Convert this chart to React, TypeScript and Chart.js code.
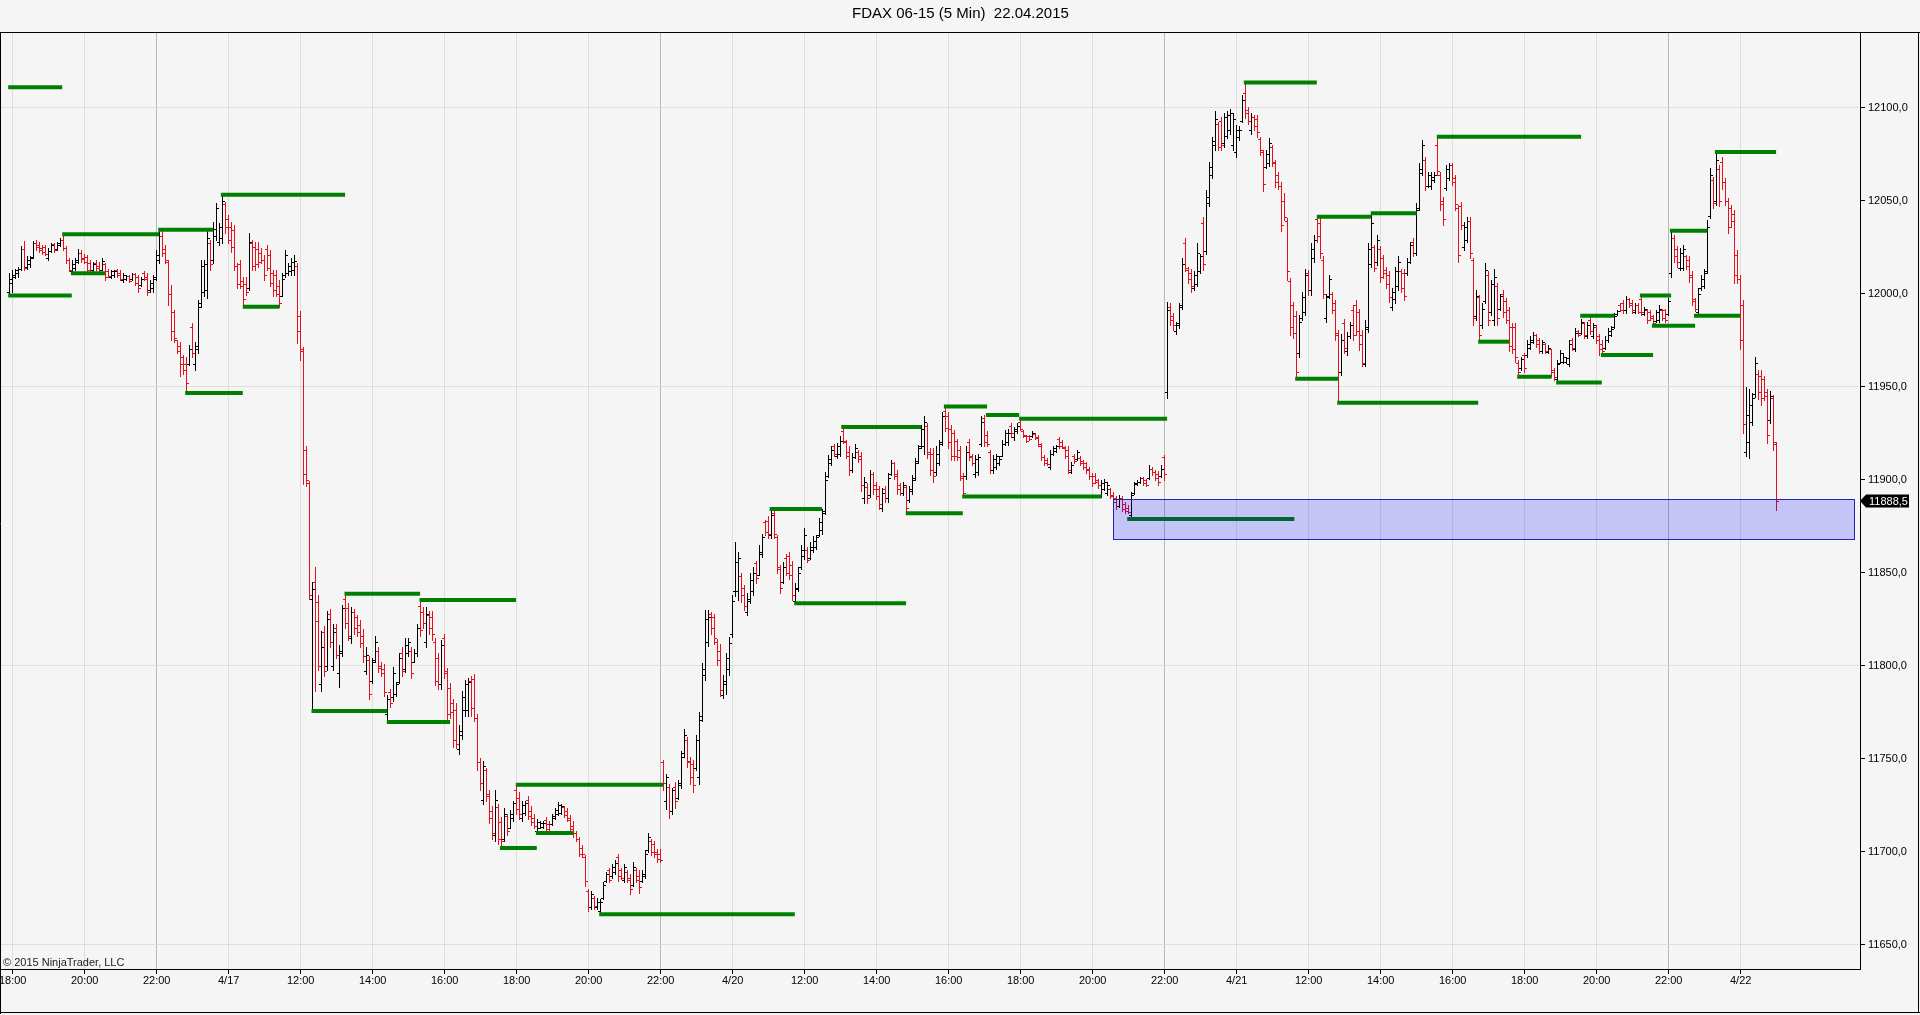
import React, { useEffect, useRef } from "react";
import { Chart, registerables } from "chart.js";

Chart.register(...registerables);

// ---------------- data ----------------
const chartTitle = "FDAX 06-15 (5 Min)  22.04.2015";
const copyrightText = "\u00A9 2015 NinjaTrader, LLC";

// x tick positions (bar index) and their labels
const xTickBars = [1, 25, 49, 73, 97, 121, 145, 169, 193, 217, 241, 265, 289, 313, 337, 361, 385, 409, 433, 457, 481, 505, 529, 553, 577];
const xTickLabels = ["18:00", "20:00", "22:00", "4/17", "12:00", "14:00", "16:00", "18:00", "20:00", "22:00", "4/20", "12:00", "14:00", "16:00", "18:00", "20:00", "22:00", "4/21", "12:00", "14:00", "16:00", "18:00", "20:00", "22:00", "4/22"];
const sessionBreakBars = [49, 217, 385, 553];
const yTickValues = [11650, 11700, 11750, 11800, 11850, 11900, 11950, 12000, 12050, 12100];
const yGridValues = [11650, 11800, 11950, 12100];

const opens = [
12001, 12006, 12009, 12011, 12013.5, 12024, 12014.5, 12016, 12019.5, 12027,
12026, 12024.5, 12025, 12019, 12023, 12026.5, 12024, 12026, 12029, 12024.5,
12018, 12012, 12014, 12017, 12022, 12019, 12019.5, 12016.5, 12012.5, 12016.5,
12015, 12013, 12016, 12012, 12009, 12010, 12012.5, 12011, 12007.5, 12008,
12009.5, 12008, 12010.5, 12009, 12004.5, 12011, 12009, 12002, 12003, 12008,
12018, 12031, 12024, 12017, 12000, 11990, 11975, 11972, 11966, 11962,
11962, 11982, 11962, 11970, 11995, 12001, 12002, 12027, 12018, 12031,
12028, 12030, 12048, 12040, 12036, 12034, 12015, 12016, 12007, 12005,
12003, 12027, 12025, 12024, 12022, 12018, 12024, 12021, 12011, 12010,
12004, 11999, 12010, 12011, 12012, 12013, 12015, 11988, 11969, 11916,
11898, 11836, 11845, 11834, 11790, 11818, 11800, 11828, 11800, 11820,
11796, 11807, 11836, 11831, 11815, 11829, 11826, 11822, 11816, 11797,
11803, 11792, 11803, 11808, 11800, 11798, 11774, 11786, 11783, 11785,
11791, 11807, 11798, 11807, 11808, 11802, 11807, 11832, 11829, 11813,
11827, 11826, 11813, 11804, 11790, 11815, 11796, 11788, 11780, 11776,
11755, 11763, 11776, 11776, 11792, 11793, 11772, 11748, 11728, 11744,
11731, 11722, 11709, 11724, 11716, 11707, 11719, 11713, 11718, 11733,
11729, 11718, 11721, 11728, 11722, 11718, 11711, 11713, 11713.5, 11717,
11715, 11715, 11718, 11720, 11721, 11724, 11722, 11718, 11714, 11710,
11707, 11702, 11697, 11679, 11670, 11675, 11670, 11668, 11675, 11684,
11690, 11687, 11689, 11697, 11690, 11685, 11689, 11686, 11682, 11690,
11687, 11684, 11687, 11701, 11706, 11704, 11700, 11699, 11748, 11727,
11735, 11722, 11735, 11729, 11736, 11753, 11760, 11749, 11747, 11745,
11740, 11773, 11795, 11813, 11828, 11826, 11813, 11808, 11784, 11790,
11798, 11817, 11840, 11840, 11848, 11842, 11829, 11835, 11840, 11855,
11849, 11860, 11877, 11878, 11870, 11882, 11869, 11852, 11845, 11858,
11859, 11854, 11835, 11841, 11853, 11859, 11862, 11858, 11862, 11864,
11870, 11873, 11883, 11902, 11909, 11918, 11913, 11914, 11926, 11920,
11915, 11905, 11912, 11915, 11913, 11890, 11896, 11892, 11903, 11897,
11895, 11885, 11895, 11890, 11903, 11909, 11903, 11897, 11893, 11896,
11889, 11894, 11901, 11910, 11918, 11918, 11929, 11915, 11914, 11904,
11909, 11920, 11937, 11934, 11927, 11925, 11921, 11916, 11901, 11902,
11920, 11913, 11903, 11904, 11919, 11933, 11924, 11915, 11905, 11907,
11909, 11913, 11919, 11920, 11929, 11923, 11926, 11931, 11926, 11923.5,
11923.5, 11923.5, 11924.5, 11923, 11918, 11912, 11910.5, 11907, 11914, 11915.5,
11922, 11920, 11917, 11916, 11904, 11913, 11911, 11911.5, 11910, 11909,
11906, 11902, 11902, 11900, 11891, 11895, 11893, 11895, 11892, 11890,
11886, 11890, 11887, 11885, 11881, 11893, 11897.5, 11898.5, 11901, 11900,
11901, 11906, 11904, 11903, 11902, 11912, 11947, 11993, 11988, 11980,
11983, 11994, 12027, 12013, 12011, 12003, 12005, 12012, 12038, 12023,
12049, 12064, 12080, 12091, 12093, 12081, 12085, 12088, 12080, 12076,
12084, 12093, 12108, 12099, 12088, 12095, 12094, 12083, 12076, 12068,
12070, 12079, 12070, 12064, 12058, 12050, 12039, 12007, 11994, 11988,
11968, 11987, 11990, 12011, 12002, 12019, 12040, 12038, 12018, 11987,
11999, 12000, 11995, 11979, 11958, 11984, 11969, 11977, 11991, 11994,
11990, 11978, 11962, 11981, 12016, 12025, 12017, 12024, 12019, 12013,
12010, 11993, 11997, 12004, 12012, 12011, 12011, 12017, 12028, 12022,
12046, 12065, 12072, 12058, 12058, 12061, 12080, 12064, 12050, 12057,
12062, 12069, 12062, 12046, 12047, 12025, 12029, 12039, 12018, 11988,
11998, 11983, 11996, 12010, 11990, 11986, 12004, 11992, 12000, 11996,
11991, 11982, 11982, 11963, 11960, 11967, 11967, 11971, 11974, 11978,
11975, 11969, 11973, 11968.5, 11970, 11959, 11954, 11963, 11963.5, 11963.5,
11962, 11975, 11970, 11980, 11979, 11984, 11977, 11986, 11977, 11982,
11977, 11973, 11971, 11975, 11978, 11982, 11989, 11994, 11995, 11991,
11997, 11995, 11990, 11994, 11997, 11989, 11991, 11990, 11988, 11985.5,
11986, 11991, 11991, 11989, 12011, 12030, 12024, 12014, 12014, 12020,
12018, 12010, 11996, 11990, 12003, 12004, 12012, 12042, 12061, 12050,
12067, 12071, 12060, 12050, 12046, 12043, 12021, 12008, 11994, 11915,
11920, 11931, 11946, 11957, 11956, 11954, 11947, 11932, 11944, 11919
];

const highs = [
12011, 12013, 12013.5, 12014.5, 12025.5, 12028.5, 12020, 12020, 12028.5, 12029,
12028, 12026, 12026, 12024.5, 12027, 12027, 12028, 12030, 12032, 12025.5,
12019, 12018, 12019, 12024, 12023.5, 12021.5, 12021, 12018, 12017, 12018,
12017, 12019, 12016.5, 12013.5, 12013, 12013, 12013.5, 12013, 12011, 12010,
12010, 12011, 12011, 12010, 12009, 12012, 12011, 12007.5, 12010, 12023.5,
12034, 12033.5, 12026, 12018, 12004.5, 11991.5, 11975, 11974, 11967, 11966,
11972.5, 11984, 11974, 11996.5, 12018, 12018, 12033.5, 12029, 12038.5, 12048.5,
12038, 12053, 12049.5, 12042.5, 12038.5, 12037, 12016.5, 12018, 12009, 12009,
12032.5, 12029, 12028, 12028, 12024.5, 12021, 12026, 12023.5, 12013, 12013,
12007.5, 12011, 12023.5, 12016.5, 12019, 12021, 12016.5, 11990.5, 11971.5, 11918,
11899.5, 11845, 11853, 11838, 11818.5, 11821.5, 11829.5, 11830.5, 11822.5, 11822.5,
11811, 11832.5, 11838.5, 11833.5, 11831.5, 11830.5, 11827.5, 11824.5, 11819.5, 11810,
11805, 11804, 11816, 11810, 11802, 11801, 11784.5, 11787.5, 11799.5, 11791.5,
11807, 11810, 11815, 11815, 11810, 11809, 11822.5, 11835, 11831.5, 11831.5,
11829.5, 11829.5, 11815, 11807, 11814, 11817, 11798.5, 11790.5, 11782, 11780,
11768, 11786.5, 11792.5, 11793.5, 11794.5, 11795.5, 11774, 11750.5, 11748.5, 11745,
11733, 11724.5, 11733, 11725.5, 11718.5, 11723.5, 11720.5, 11722.5, 11727.5, 11735.5,
11732, 11727.5, 11727.5, 11730, 11724.5, 11720.5, 11717.5, 11716.5, 11716.5, 11718.5,
11716.5, 11720.5, 11723.5, 11726.5, 11725.5, 11724.5, 11723.5, 11719.5, 11716.5, 11711,
11708, 11703.5, 11698, 11680, 11679, 11676, 11675, 11674.5, 11683.5, 11689,
11691.5, 11693.5, 11695.5, 11699, 11691, 11693.5, 11690, 11688, 11694.5, 11691.5,
11690, 11690, 11701, 11710, 11707, 11705.5, 11701.5, 11701.5, 11749.5, 11742,
11736.5, 11734.5, 11737.5, 11738.5, 11754, 11766, 11761.5, 11751, 11749.5, 11763,
11775, 11801.5, 11830, 11830, 11829, 11828, 11814.5, 11811.5, 11795, 11807,
11815.5, 11838, 11866.5, 11861, 11850, 11843.5, 11839, 11850, 11853, 11856.5,
11865, 11871, 11878.5, 11880.5, 11883, 11884, 11870.5, 11854, 11855.5, 11860,
11861, 11856.5, 11844.5, 11853, 11865, 11874, 11864, 11866.5, 11869.5, 11870.5,
11879.5, 11884, 11904, 11913.5, 11918, 11919, 11919.5, 11923.5, 11928, 11921.5,
11918, 11914.5, 11919, 11916, 11915, 11901.5, 11898, 11905, 11904, 11898.5,
11896.5, 11895.5, 11896.5, 11903.5, 11910.5, 11909.5, 11905, 11898, 11899, 11897,
11896.5, 11902.5, 11911.5, 11918.5, 11929.5, 11934, 11930.5, 11917, 11917, 11918,
11921.5, 11936.5, 11939.5, 11936.5, 11929.5, 11926.5, 11922, 11918, 11903.5, 11918,
11922, 11914, 11913.5, 11914, 11934, 11935, 11926, 11916, 11913.5, 11914,
11912.5, 11921.5, 11926.5, 11927.5, 11930.5, 11928.5, 11930.5, 11933, 11926.5, 11924,
11924, 11926, 11925, 11924, 11919.5, 11913.5, 11911.5, 11916, 11918, 11918.5,
11923, 11921.5, 11918, 11918, 11909.5, 11914, 11916, 11912.5, 11910.5, 11909.5,
11907, 11903.5, 11903.5, 11900.5, 11900, 11900.5, 11899, 11895.5, 11893.5, 11891,
11892, 11891, 11888, 11886.5, 11893.5, 11899, 11900, 11901.5, 11901.5, 11900.5,
11908, 11907, 11905, 11904.5, 11908, 11913.5, 11995.5, 11995, 11989.5, 11985,
11995, 12019, 12030, 12014.5, 12013.5, 12012, 12027, 12021.5, 12041.5, 12055.5,
12071, 12084.5, 12098, 12092.5, 12095, 12097, 12098, 12099.5, 12097, 12090.5,
12090, 12107, 12113.5, 12100.5, 12097, 12096, 12096, 12084.5, 12077.5, 12077.5,
12083.5, 12080, 12072, 12065.5, 12060, 12054, 12040.5, 12008.5, 11995.5, 11990.5,
11988.5, 12001, 12013.5, 12012.5, 12027, 12031.5, 12041.5, 12040.5, 12020, 12000,
12010, 12001, 11996.5, 11980.5, 11978.5, 11986.5, 11979.5, 11985, 11994, 11996.5,
11992, 11980.5, 11986, 12027, 12042.5, 12026, 12031.5, 12025.5, 12021, 12014.5,
12012, 12003, 12014.5, 12020, 12013.5, 12013.5, 12019, 12028, 12030, 12048.5,
12070, 12082.5, 12073.5, 12065.5, 12065.5, 12065.5, 12084.5, 12065.5, 12052, 12069,
12070, 12070, 12064, 12047.5, 12049.5, 12038.5, 12041.5, 12041.5, 12019, 12002,
11999.5, 11995, 12016.5, 12012, 12007.5, 12013.5, 12005.5, 12000, 12002, 11997.5,
11993, 11984, 11984, 11964.5, 11966, 11968, 11975, 11977, 11979.5, 11978.5,
11976, 11975, 11973.5, 11972.5, 11970.5, 11960, 11964.5, 11969.5, 11968, 11966,
11975, 11976, 11981.5, 11980.5, 11986.5, 11985, 11985, 11988, 11984, 11983,
11978.5, 11975, 11977, 11981.5, 11982.5, 11989.5, 11991, 11995, 11996.5, 11998.5,
11997.5, 11996.5, 11995, 11995, 11999, 11993, 11992, 11991, 11988.5, 11991,
11994, 11992, 11992, 11997.5, 12034, 12031.5, 12025.5, 12024.5, 12026, 12021,
12020, 12012, 11997.5, 12003, 12010, 12013.5, 12039.5, 12067.5, 12063, 12076,
12069, 12073.5, 12062, 12051.5, 12047.5, 12045, 12023.5, 12010, 11996.5, 11950,
11949, 11946.5, 11966, 11959, 11959, 11955.5, 11949, 11947.5, 11945.5, 11920.5
];

const lows = [
11999.5, 12001, 12008.5, 12009, 12013, 12013, 12013.5, 12014.5, 12019, 12023.5,
12022.5, 12021.5, 12021, 12018, 12022.5, 12022.5, 12023.5, 12025.5, 12023.5, 12016.5,
12012, 12011, 12013, 12016.5, 12017, 12016.5, 12012, 12012, 12012, 12013,
12012, 12013, 12007.5, 12009, 12008.5, 12009, 12009, 12007.5, 12006.5, 12007.5,
12006.5, 12007.5, 12004.5, 12001, 12004, 12007.5, 11999.5, 12001, 12001, 12007.5,
12016.5, 12020, 12016.5, 11994, 11975, 11974, 11968, 11955.5, 11957, 11946.5,
11961.5, 11966, 11959, 11968, 11993, 11998.5, 11997.5, 12013, 12016.5, 12029,
12026, 12027, 12032.5, 12027, 12022.5, 12013, 12003, 12003, 11993, 11999.5,
12002, 12013, 12013, 12014.5, 12016.5, 12007.5, 12013, 12004, 11998.5, 11998.5,
11993, 11998.5, 12009, 12010, 12010, 12010, 11973.5, 11964.5, 11897.5, 11896.5,
11836, 11776, 11786.5, 11797.5, 11786.5, 11794.5, 11797.5, 11810, 11797.5, 11804,
11788.5, 11805, 11820.5, 11814, 11812, 11817, 11816, 11810, 11802, 11795.5,
11782, 11790.5, 11802, 11796.5, 11794.5, 11783.5, 11770, 11778, 11781, 11783.5,
11790.5, 11794.5, 11796.5, 11805, 11793.5, 11802, 11805, 11816, 11820.5, 11810,
11817, 11814, 11789.5, 11787.5, 11787.5, 11793.5, 11771, 11772, 11756.5, 11755.5,
11752.5, 11760.5, 11773, 11773, 11773, 11770, 11744, 11733, 11725.5, 11727.5,
11715.5, 11707, 11706, 11704, 11702, 11706, 11709, 11712.5, 11716.5, 11720.5,
11717.5, 11716.5, 11719.5, 11717.5, 11714.5, 11712.5, 11710, 11712.5, 11712.5, 11710,
11710, 11714.5, 11717.5, 11719.5, 11720.5, 11718.5, 11716.5, 11710, 11708, 11706,
11697.5, 11697, 11681.5, 11668, 11669, 11669, 11669, 11666.5, 11674.5, 11683.5,
11683.5, 11686, 11688, 11684.5, 11685.5, 11683.5, 11683.5, 11677, 11681.5, 11683.5,
11678, 11683.5, 11686, 11700, 11698, 11697, 11694.5, 11694.5, 11733, 11723,
11718, 11720, 11723.5, 11728.5, 11734, 11751, 11745.5, 11736.5, 11732, 11744,
11736.5, 11770.5, 11792.5, 11810.5, 11817, 11811.5, 11800.5, 11783.5, 11782.5, 11785,
11795, 11815.5, 11837.5, 11835.5, 11834.5, 11830, 11827, 11833.5, 11838, 11844.5,
11848.5, 11858.5, 11870.5, 11868.5, 11868.5, 11868.5, 11850, 11839, 11844.5, 11848.5,
11846.5, 11835.5, 11833.5, 11840, 11852, 11857.5, 11855.5, 11857.5, 11861, 11863,
11869.5, 11871, 11881.5, 11901.5, 11908, 11912.5, 11911.5, 11912.5, 11919.5, 11911.5,
11902.5, 11904, 11911.5, 11909.5, 11894, 11887.5, 11887.5, 11890.5, 11892.5, 11889.5,
11884.5, 11883, 11888, 11888, 11902.5, 11900.5, 11892.5, 11892, 11892, 11882,
11888, 11892.5, 11900, 11909, 11917, 11914, 11911.5, 11902.5, 11899, 11902.5,
11908, 11918.5, 11926, 11917, 11910.5, 11910.5, 11910.5, 11900, 11891, 11900.5,
11910.5, 11908, 11901.5, 11902.5, 11918, 11918, 11918, 11903.5, 11903.5, 11906,
11908, 11912.5, 11918.5, 11918.5, 11923, 11921.5, 11925, 11926.5, 11923, 11920.5,
11921.5, 11923, 11922, 11918, 11910.5, 11908, 11908, 11906, 11913.5, 11915,
11917, 11917, 11911.5, 11903.5, 11903.5, 11909, 11910.5, 11908, 11906, 11903.5,
11900.5, 11896.5, 11898, 11895.5, 11890.5, 11894.5, 11892, 11890, 11886.5, 11884.5,
11885.5, 11883, 11882, 11882, 11879, 11892.5, 11897, 11898, 11897, 11896.5,
11900.5, 11902.5, 11900, 11897, 11901.5, 11900, 11944, 11983, 11980.5, 11978.5,
11981.5, 11992, 12012, 12005.5, 12001, 12002, 12004, 12011, 12012.5, 12021.5,
12047, 12062, 12077.5, 12077.5, 12077.5, 12079, 12083.5, 12086, 12077.5, 12073.5,
12082.5, 12092.5, 12094.5, 12091.5, 12086, 12088, 12084.5, 12074.5, 12055, 12067.5,
12068.5, 12068.5, 12057.5, 12056.5, 12033.5, 12039.5, 12007.5, 11978, 11976, 11954.5,
11966, 11986, 11988.5, 11999.5, 11999.5, 12017, 12028, 12019, 11997.5, 11985,
11997.5, 11989.5, 11975, 11941.5, 11956.5, 11968, 11967, 11976, 11975, 11978,
11969.5, 11961, 11961, 11979.5, 12014.5, 12012, 12015.5, 12006.5, 12008.5, 12003,
11995.5, 11991, 11995, 12002, 12001, 11996.5, 12010, 12016.5, 12020, 12021,
12045, 12064, 12055.5, 12057.5, 12056.5, 12060, 12064, 12045, 12037, 12055.5,
12061, 12058.5, 12045, 12017, 12035, 12023.5, 12028, 12019, 11983, 11986,
11974, 11981.5, 11995, 11983, 11988.5, 11983, 11983, 11991, 11987.5, 11984,
11969, 11968, 11963.5, 11955.5, 11959, 11958, 11966, 11970.5, 11973.5, 11971.5,
11968, 11968, 11968, 11968, 11955.5, 11953.5, 11952, 11962.5, 11962.5, 11962.5,
11961, 11969.5, 11969, 11977.5, 11978.5, 11976, 11976, 11978.5, 11976, 11973.5,
11967, 11968, 11970.5, 11974, 11977, 11981.5, 11988.5, 11990.5, 11989.5, 11989.5,
11993, 11989.5, 11989.5, 11989.5, 11988.5, 11988.5, 11984, 11986, 11983, 11985,
11985, 11986, 11985, 11988.5, 12009, 12017, 12014.5, 12012.5, 12012.5, 12013.5,
12006.5, 11994, 11990.5, 11988, 12002, 12003, 12011, 12040.5, 12046, 12047.5,
12047, 12056.5, 12047.5, 12032.5, 12036, 12005.5, 12005.5, 11970.5, 11925, 11912.5,
11911.5, 11929.5, 11944.5, 11943.5, 11940, 11943, 11919.5, 11930.5, 11916, 11883.5
];

const closes = [
12008, 12010, 12012.5, 12013.5, 12024, 12014, 12018, 12019, 12027, 12025,
12023.5, 12022.5, 12021.5, 12023, 12026, 12023.5, 12027, 12029, 12024.5, 12018,
12013, 12016, 12018, 12022, 12018.5, 12017, 12013, 12013, 12016, 12014,
12012.5, 12017.5, 12009, 12009.5, 12012, 12012, 12010, 12008, 12010, 12009.5,
12007, 12010.5, 12005.5, 12003, 12008, 12008, 12001, 12006, 12009, 12021,
12031, 12022, 12018, 12000, 11980, 11976, 11969, 11962, 11959, 11952,
11970, 11968, 11972, 11993, 12015, 12016, 12030, 12016, 12035, 12046,
12036, 12050, 12036, 12029, 12025, 12015, 12005, 12004, 11997, 12001,
12028, 12015, 12016, 12017, 12018, 12010, 12014, 12006, 12002, 12000,
11995, 12008, 12021, 12015, 12017, 12017.5, 11980, 11970, 11903, 11900,
11838, 11841, 11824, 11800, 11810, 11797, 11825, 11813, 11818, 11806,
11808, 11831, 11823, 11816, 11829, 11820, 11818, 11812, 11805, 11806,
11785, 11802, 11813, 11799, 11796, 11786, 11782, 11780, 11796, 11790,
11804, 11797, 11811, 11813, 11796, 11807, 11820, 11819, 11823, 11828,
11820, 11817, 11792, 11790, 11811, 11797, 11774, 11775, 11760, 11758,
11765, 11783, 11790, 11791, 11777, 11772, 11748, 11737, 11746, 11730,
11718, 11710, 11728, 11707, 11706, 11720, 11711, 11720, 11726, 11723,
11720, 11725, 11726, 11719, 11716, 11714, 11716, 11715.5, 11715.5, 11712,
11711, 11719, 11722.5, 11725, 11724.5, 11719.5, 11717, 11712, 11710, 11707,
11699, 11698.5, 11684, 11670, 11677, 11671, 11673, 11673, 11682, 11688,
11685, 11692, 11694, 11687, 11686, 11692, 11685, 11680, 11692, 11685,
11681, 11688, 11699, 11708, 11700, 11699, 11696, 11695.5, 11737, 11740,
11722, 11733, 11727, 11737, 11751, 11763, 11748, 11740, 11736, 11760,
11771, 11798, 11825, 11826, 11820, 11815, 11803, 11787, 11792, 11804,
11812, 11835, 11856, 11858, 11838, 11832, 11836, 11846, 11850, 11847,
11861, 11869, 11872, 11871, 11881, 11871, 11853, 11842, 11853, 11850,
11849, 11838, 11842, 11850, 11862, 11870, 11857, 11864, 11867, 11869,
11877, 11882, 11900, 11911, 11916, 11914, 11918, 11921, 11921, 11913,
11905, 11912, 11917, 11911, 11897, 11899, 11890, 11903, 11895, 11891,
11887, 11893, 11890, 11901, 11909, 11902, 11895, 11893, 11897, 11885,
11895, 11900, 11909, 11917, 11927, 11931, 11914, 11905, 11902, 11914,
11919, 11934, 11928, 11920, 11913, 11913, 11912, 11902, 11893, 11915,
11912, 11909, 11911, 11912, 11931, 11920, 11919, 11905, 11911, 11913,
11911, 11919, 11925, 11925, 11925, 11927, 11929, 11927, 11924, 11921,
11922, 11925, 11922.5, 11919, 11912, 11909, 11908.5, 11914, 11917, 11918,
11918, 11917.5, 11913, 11905, 11908, 11910, 11915, 11909, 11907, 11905,
11902, 11898, 11899, 11897, 11898, 11899, 11897, 11891, 11888, 11886,
11890, 11884, 11883, 11882.5, 11892, 11898, 11899, 11901, 11898, 11897,
11906, 11904, 11901, 11899, 11906, 11903, 11991, 11986, 11983, 11984,
11993, 12016, 12014, 12008, 12004, 12010, 12022, 12020, 12016, 12052,
12068, 12082, 12094, 12079, 12080, 12095, 12096, 12097, 12094, 12088,
12088, 12104, 12097, 12093, 12095, 12090, 12087, 12077, 12059, 12075,
12081, 12071, 12060, 12058, 12037, 12041, 12012, 11982, 11979, 11958,
11985, 11998, 12010, 12002, 12024, 12029, 12031, 12022, 12000, 11998,
12008, 11991, 11978, 11958, 11975, 11971, 11977, 11983, 11978, 11980,
11973, 11963, 11982, 12024, 12038, 12014, 12029, 12009, 12011, 12005,
11998, 12001, 12012, 12017, 12003, 11999, 12017, 12026, 12022, 12045,
12067, 12080, 12058, 12064, 12063, 12064, 12066, 12048, 12040, 12067,
12069, 12060, 12048, 12021, 12037, 12036, 12039, 12022, 11987, 11999,
11978, 11992, 12013, 11986, 12005, 12009, 11987, 11999, 11990, 11986,
11972, 11970, 11966, 11958, 11965, 11960, 11973, 11975, 11978, 11973,
11969, 11974, 11969, 11971, 11958, 11955, 11962, 11968, 11966, 11965.5,
11973, 11971, 11979, 11978, 11985, 11978, 11983, 11980, 11983, 11975,
11970, 11969, 11975, 11980, 11981, 11988, 11990.5, 11991, 11991, 11997,
11994, 11991, 11994, 11990, 11990, 11992, 11986, 11987, 11984, 11990,
11992, 11987, 11986, 11996, 12030, 12020, 12017, 12022, 12024, 12015,
12009, 11997, 11992, 12000, 12008, 12011, 12036, 12064, 12049, 12072,
12050, 12060, 12050, 12036, 12039, 12010, 12008, 11975, 11930, 11935,
11940, 11944, 11963, 11947, 11944, 11945, 11924, 11945, 11920, 11888.5
];

// horizontal level lines (value, first bar, last bar)
const levelValues = [12111, 11999, 12032, 12011, 12034.4, 12053.2, 11993, 11946.6, 11775.7, 11838.7, 11769.7, 11835.3, 11736, 11702, 11710, 11666.4, 11833.6, 11884.2, 11928.3, 11882, 11939.3, 11934.8, 11932.8, 11890.9, 11878.9, 12113.5, 12084.4, 12041.4, 12043.2, 11954.3, 11941.4, 11974.2, 11955.4, 11952.2, 11988.2, 11967, 11999, 11982.8, 12033.9, 11988.2, 12076.2];
const levelStarts = [-0.5, -0.5, 17.5, 20.4, 49.5, 70.4, 77.7, 58.5, 100.6, 111.6, 125.7, 136.6, 168.7, 163.4, 175.4, 196.5, 261.5, 253.3, 277.2, 298.7, 311.4, 325.4, 336.5, 317.5, 372.5, 411.4, 475.7, 435.7, 453.7, 428.5, 442.5, 489.5, 502.5, 515.5, 523.5, 530.4, 543.4, 547.4, 553.4, 561.4, 568.4];
const levelEnds = [17.5, 20.7, 49.8, 31.8, 67.9, 111.8, 89.9, 77.7, 125.9, 136.8, 146.8, 168.8, 217.9, 175.7, 187.9, 261.7, 298.8, 270.8, 303.8, 317.7, 325.8, 336.5, 385.8, 364, 428.2, 435.7, 523.8, 453.9, 469, 442.9, 489.5, 499.9, 514, 530.7, 534.9, 547.8, 553.8, 561.8, 565.9, 576.8, 588.8];

// zone rectangle (bars and prices)
const zoneStartBar = 367.9;
const zoneEndBar = 614.7;
const zoneTop = 11889.5;
const zoneBottom = 11868;

// ---------------- style ----------------
const FONT = "'Liberation Sans', Arial, sans-serif";
const BG = "#f5f5f5";
const UP_COLOR = "#000000";
const DOWN_COLOR = "rgb(228,18,30)";
const LEVEL_COLOR = "#008000";
const X_MIN = -2.9;
const X_MAX = 616.7667;
const Y_MIN = 11636.93;
const Y_MAX = 12140.16;

const bgPlugin = {
  id: "bg",
  beforeDraw(chart: any) {
    const { ctx, width, height } = chart;
    ctx.save();
    ctx.fillStyle = BG;
    ctx.fillRect(0, 0, width, height);
    ctx.restore();
  },
};

const ohlcPlugin = {
  id: "ohlc",
  beforeDatasetsDraw(chart: any) {
    const { ctx, scales } = chart;
    const xs = scales.x;
    const ys = scales.y;
    const n = Math.min(opens.length, highs.length, lows.length, closes.length);
    ctx.save();
    for (let i = 0; i < n; i++) {
      const X = Math.floor(xs.getPixelForValue(i));
      const yH = Math.round(ys.getPixelForValue(highs[i]));
      const yL = Math.round(ys.getPixelForValue(lows[i]));
      const yO = Math.round(ys.getPixelForValue(opens[i]));
      const yC = Math.round(ys.getPixelForValue(closes[i]));
      ctx.fillStyle = closes[i] >= opens[i] ? UP_COLOR : DOWN_COLOR;
      ctx.fillRect(X, yH, 1, Math.max(1, yL - yH + 1));
      ctx.fillRect(X - 2, yO, 2, 1);
      ctx.fillRect(X + 1, yC, 2, 1);
    }
    ctx.restore();
  },
};

const overlayPlugin = {
  id: "overlay",
  afterDatasetsDraw(chart: any) {
    const { ctx, scales } = chart;
    const xs = scales.x;
    const ys = scales.y;
    // zone rectangle
    const x1 = Math.round(xs.getPixelForValue(zoneStartBar)) + 0.5;
    const x2 = Math.round(xs.getPixelForValue(zoneEndBar)) + 0.5;
    const y1 = Math.round(ys.getPixelForValue(zoneTop)) + 0.5;
    const y2 = Math.round(ys.getPixelForValue(zoneBottom)) + 0.5;
    ctx.save();
    ctx.fillStyle = "rgba(0,0,255,0.2)";
    ctx.fillRect(x1, y1, x2 - x1, y2 - y1);
    ctx.strokeStyle = "#2424b0";
    ctx.lineWidth = 1;
    ctx.strokeRect(x1, y1, x2 - x1, y2 - y1);
    // last price marker
    const last = closes[closes.length - 1];
    const py = ys.getPixelForValue(last);
    const ax = chart.chartArea.right;
    ctx.fillStyle = "#000";
    ctx.beginPath();
    ctx.moveTo(ax, py);
    ctx.lineTo(ax + 6, py - 6.5);
    ctx.lineTo(ax + 49, py - 6.5);
    ctx.lineTo(ax + 49, py + 6.5);
    ctx.lineTo(ax + 6, py + 6.5);
    ctx.closePath();
    ctx.fill();
    ctx.fillStyle = "#fff";
    ctx.font = "11px " + FONT;
    ctx.textAlign = "left";
    ctx.textBaseline = "middle";
    ctx.fillText(last.toFixed(1).replace(".", ","), ax + 9, py + 0.5);
    ctx.restore();
  },
  afterDraw(chart: any) {
    const { ctx, width, height, chartArea } = chart;
    ctx.save();
    ctx.fillStyle = "#222";
    ctx.font = "11px " + FONT;
    ctx.textAlign = "left";
    ctx.textBaseline = "middle";
    ctx.fillText(copyrightText, 3, chartArea.bottom - 6);
    ctx.strokeStyle = "#000";
    ctx.lineWidth = 1;
    ctx.beginPath();
    ctx.moveTo(0, chartArea.top - 0.5);
    ctx.lineTo(width, chartArea.top - 0.5);
    ctx.moveTo(0.5, chartArea.top);
    ctx.lineTo(0.5, height - 1);
    ctx.moveTo(0, height - 2.5);
    ctx.lineTo(width, height - 2.5);
    ctx.moveTo(width - 1.5, chartArea.top);
    ctx.lineTo(width - 1.5, height - 2);
    ctx.stroke();
    ctx.restore();
  },
};

export default function App() {
  const ref = useRef<HTMLCanvasElement | null>(null);
  useEffect(() => {
    document.body.style.margin = "0";
    document.body.style.background = BG;
    const canvas = ref.current;
    if (!canvas) return;
    Chart.defaults.font.family = FONT;
    const datasets = levelValues.map((v, i) => ({
      type: "line" as const,
      data: [
        { x: levelStarts[i], y: v },
        { x: levelEnds[i], y: v },
      ],
      borderColor: LEVEL_COLOR,
      borderWidth: 4,
      pointRadius: 0,
      fill: false,
      tension: 0,
      borderCapStyle: "butt" as const,
    }));
    const chart = new Chart(canvas, {
      type: "line",
      data: { datasets },
      options: {
        responsive: false,
        animation: false,
        devicePixelRatio: 1,
        events: [],
        layout: { padding: { left: 1, right: 0, top: 0, bottom: 0 } },
        plugins: {
          legend: { display: false },
          tooltip: { enabled: false },
          title: {
            display: true,
            text: chartTitle,
            color: "#000",
            font: { family: FONT, size: 15, weight: "normal" },
            padding: { top: 5, bottom: 10 },
          },
        },
        scales: {
          x: {
            type: "linear",
            position: "bottom",
            min: X_MIN,
            max: X_MAX,
            afterBuildTicks: (s: any) => {
              s.ticks = xTickBars.map((v) => ({ value: v }));
            },
            afterFit: (s: any) => {
              s.height = 46;
              s.paddingLeft = 0;
              s.paddingRight = 0;
            },
            ticks: {
              autoSkip: false,
              maxRotation: 0,
              minRotation: 0,
              padding: 0,
              color: "#000",
              font: { family: FONT, size: 11 },
              callback: (_v: any, i: number) => xTickLabels[i],
            },
            grid: {
              color: (c: any) =>
                c.tick && sessionBreakBars.includes(c.tick.value) ? "#b9b9b9" : "#dedede",
              lineWidth: 1,
              drawTicks: true,
              tickLength: 5,
              tickColor: "#000",
              tickWidth: 1,
            },
            border: { display: true, color: "#000", width: 1 },
          },
          y: {
            type: "linear",
            position: "right",
            min: Y_MIN,
            max: Y_MAX,
            afterBuildTicks: (s: any) => {
              s.ticks = yTickValues.map((v) => ({ value: v }));
            },
            afterFit: (s: any) => {
              s.width = 60;
              s.paddingTop = 0;
              s.paddingBottom = 0;
            },
            ticks: {
              padding: 3,
              color: "#000",
              font: { family: FONT, size: 11 },
              callback: (v: any) => Number(v).toFixed(1).replace(".", ","),
            },
            grid: {
              color: (c: any) =>
                c.tick && yGridValues.includes(c.tick.value) ? "#dedede" : "rgba(0,0,0,0)",
              lineWidth: 1,
              drawTicks: true,
              tickLength: 5,
              tickColor: "#000",
              tickWidth: 1,
            },
            border: { display: true, color: "#000", width: 1 },
          },
        },
      } as any,
      plugins: [bgPlugin, ohlcPlugin, overlayPlugin],
    });
    return () => chart.destroy();
  }, []);
  return (
    <canvas
      ref={ref}
      width={1920}
      height={1015}
      style={{ position: "absolute", left: 0, top: 0, width: 1920, height: 1015, display: "block" }}
    />
  );
}
